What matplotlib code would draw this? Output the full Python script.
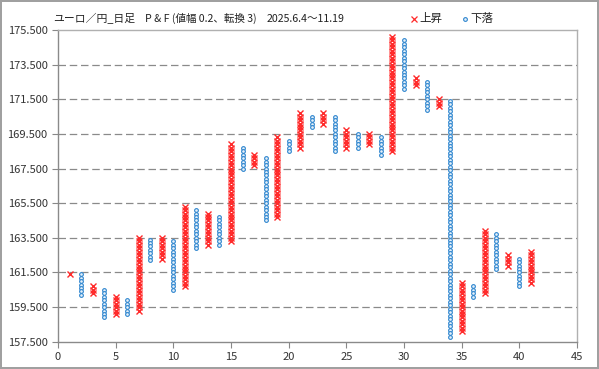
import numpy as np
import matplotlib
matplotlib.use('Agg')
import matplotlib.pyplot as plt
from matplotlib.lines import Line2D

plt.rcParams['font.family'] = ['Noto Sans CJK JP', 'DejaVu Sans']

# P&F columns (box size 0.2): odd columns are X (up), even are O (down)
col_x = list(range(1, 42))
col_dir = ['X', 'O'] * 20 + ['X']
col_high = [161.4, 161.4, 160.7, 160.5, 160.1, 159.9, 163.5, 163.4, 163.5, 163.3,
            165.3, 165.1, 164.9, 164.7, 168.9, 168.7, 168.3, 168.1, 169.3, 169.1,
            170.7, 170.5, 170.7, 170.5, 169.7, 169.5, 169.5, 169.3, 175.1, 174.9,
            172.7, 172.5, 171.5, 171.4, 160.9, 160.7, 163.9, 163.7, 162.5, 162.3,
            162.7]
col_low = [161.4, 160.2, 160.3, 158.9, 159.1, 159.1, 159.3, 162.2, 162.3, 160.5,
           160.7, 162.9, 163.1, 163.1, 163.3, 167.5, 167.7, 164.5, 164.7, 168.5,
           168.7, 169.9, 170.1, 168.5, 168.7, 168.7, 168.9, 168.3, 168.5, 172.1,
           172.3, 170.9, 171.1, 157.8, 158.1, 160.1, 160.3, 161.7, 161.9, 160.7,
           160.9]
box = 0.2

y_ticks = np.arange(157.5, 175.51, 2.0)
x_ticks = np.arange(0, 46, 5)

red = '#ff2a2a'
blue = '#2f86cf'

fig = plt.figure(figsize=(5.99, 3.69), dpi=100)
fig.patch.set_edgecolor('#a0a0a0')
fig.patch.set_linewidth(1.5)
ax = fig.add_axes([58 / 599, 1 - 341.7 / 369, 519 / 599, 311.7 / 369])

# stack the boxes of each column
xs_up, ys_up, xs_dn, ys_dn = [], [], [], []
for x, d, hi, lo in zip(col_x, col_dir, col_high, col_low):
    n = int(round((hi - lo) / box)) + 1
    vals = hi - box * np.arange(n)
    if d == 'X':
        xs_up += [x] * n
        ys_up += list(vals)
    else:
        xs_dn += [x] * n
        ys_dn += list(vals)

ax.plot(xs_up, ys_up, linestyle='none', marker='x', markersize=4.2,
        markeredgewidth=1.0, color=red, zorder=3)
ax.plot(xs_dn, ys_dn, linestyle='none', marker='o', markersize=2.7,
        markeredgewidth=0.8, markerfacecolor='#e3eff9', markeredgecolor=blue, zorder=3)

ax.set_xlim(0, 45)
ax.set_ylim(157.5, 175.5)
ax.set_xticks(x_ticks)
ax.set_yticks(y_ticks)
ax.set_yticklabels([f'{v:.3f}' for v in y_ticks])
ax.tick_params(labelsize=8, colors='#333333', length=4, width=0.8)
ax.tick_params(axis='both', color='#888888')

for y in y_ticks[1:-1]:
    ax.axhline(y, color='#8a8a8a', linewidth=0.9, linestyle=(0, (6, 3)), zorder=1)

for s in ['left', 'bottom']:
    ax.spines[s].set_color('#8a8a8a')
    ax.spines[s].set_linewidth(1.0)
for s in ['top', 'right']:
    ax.spines[s].set_color('#b0b0b0')
    ax.spines[s].set_linewidth(1.0)

# title pieces
ty = 1 - 18.5 / 369
fig.text(53 / 599, ty, 'ユーロ／円_日足', fontsize=7.8, va='center', ha='left', color='#222222')
fig.text(145 / 599, ty, 'P & F (値幅 0.2、転換 3)', fontsize=7.6, va='center', ha='left', color='#222222')
fig.text(267 / 599, ty, '2025.6.4～11.19', fontsize=7.6, va='center', ha='left', color='#222222')

# legend
fig.add_artist(Line2D([413.5 / 599], [ty], transform=fig.transFigure, marker='x',
                      markersize=4.5, markeredgewidth=0.9, color=red, linestyle='none'))
fig.text(419 / 599, ty, '上昇', fontsize=8.3, va='center', ha='left', color='#222222')
fig.add_artist(Line2D([464.5 / 599], [ty], transform=fig.transFigure, marker='o',
                      markersize=2.7, markeredgewidth=0.8, markerfacecolor='#e3eff9',
                      markeredgecolor=blue, linestyle='none'))
fig.text(470 / 599, ty, '下落', fontsize=8.3, va='center', ha='left', color='#222222')

fig.savefig('out.png', dpi=100, edgecolor=fig.get_edgecolor())
